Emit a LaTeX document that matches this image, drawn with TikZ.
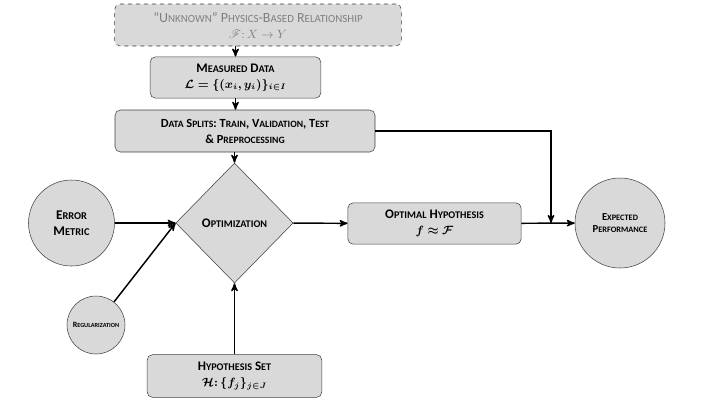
\documentclass[tikz,border=0pt]{standalone}
\usepackage{amsmath,amssymb,bm,mathrsfs}
\usepackage{fontspec}
\setmainfont{Carlito}
\usetikzlibrary{arrows,shapes.geometric}
\makeatletter
% fake small caps: lower part set in capitals at 78 percent
\newcommand\lw[1]{{\fontsize{\strip@pt\dimexpr0.78\dimexpr\f@size pt\relax\relax}{0}\selectfont #1}}
\makeatother
\tikzset{
    %Define standard arrow tip
    >=stealth',
    %Define style for boxes
    box/.style={
           rectangle,
           rounded corners=4pt,
           draw=black!75, thin,
           fill=black!15,
           inner sep=0pt,
           align=center,
           font=\fontsize{9.8}{12}\selectfont\bfseries},
    % Define style for the unknown box
    ghost/.style={
           box,
           dashed,
           font=\fontsize{10.5}{12}\selectfont,
           text=black!50},
    % Define style for round nodes
    disc/.style={
           circle,
           draw=black!75, thin,
           fill=black!15,
           inner sep=0pt,
           align=center,
           font=\footnotesize\bfseries},
    choice/.style={
           diamond,
           draw=black!75, thin,
           fill=black!15,
           inner sep=0pt,
           font=\fontsize{9.8}{12}\selectfont\bfseries},
    % Define arrow style
    imply/.style={
           ->,
           line width=1.1pt}
}

\begin{document}
\begin{tikzpicture}[x=0.75pt, y=-0.75pt]
 \useasboundingbox (0,0) rectangle (720,405);
 %nodes
    \node[ghost, minimum width=215pt, minimum height=31.5pt] (unk) at (258,25)
        {``U\lw{NKNOWN}'' P\lw{HYSICS}-B\lw{ASED} R\lw{ELATIONSHIP}\\ {\small$\mathscr{F}{:}\,X\to Y$}};
    \node[box, minimum width=128pt, minimum height=31pt] (meas) at (235.5,77.5)
        {M\lw{EASURED} D\lw{ATA}\\ {\small$\bm{\mathcal{L}=\{(x_i,y_i)\}_{i\in I}}$}};
    \node[box, minimum width=195pt, minimum height=31.5pt, font=\fontsize{9.3}{12}\selectfont\bfseries] (split) at (245,131)
        {D\lw{ATA} S\lw{PLITS}: T\lw{RAIN}, V\lw{ALIDATION}, T\lw{EST}\\ \& P\lw{REPROCESSING}};
    \node[choice, minimum width=88pt, minimum height=90pt] (optim) at (234.5,223) {O\lw{PTIMIZATION}};
    \node[box, minimum width=130pt, minimum height=31pt] (opt) at (434.5,223.5)
        {O\lw{PTIMAL} H\lw{YPOTHESIS}\\ {\small$\bm{f\approx\mathcal{F}}$}};
    \node[disc, minimum size=67.5pt] (exp) at (620,223)
        {E\lw{XPECTED}\\ P\lw{ERFORMANCE}};
    \node[disc, minimum size=64.5pt, font=\normalsize\bfseries] (err) at (71.5,223) {E\lw{RROR}\\ M\lw{ETRIC}};
    \node[disc, minimum size=43.5pt, font=\fontsize{6}{7}\selectfont\bfseries] (reg) at (96,325) {R\lw{EGULARIZATION}};
    \node[box, minimum width=131pt, minimum height=32pt] (hyp) at (234.5,376)
        {H\lw{YPOTHESIS} S\lw{ET}\\ {\small$\bm{\mathcal{H}{:}\,\{f_j\}_{j\in J}}$}};
    \coordinate (jn) at (551,223);
 %edges
    \draw[imply] (unk.south -| meas.north) -- (meas.north);
    \draw[imply] (meas) -- (split.north -| meas.south);
    \draw[imply] (split.south -| optim.north) -- (optim.north);
    \draw[imply] (split.east) -| (jn);
    \draw[imply] (optim) -- (opt);
    \draw[imply] (opt) -- (exp);
    \draw[imply] (err) -- (optim.west);
    \draw[imply] (reg) -- (optim.west);
    \draw[imply] (hyp) -- (optim.south);
\end{tikzpicture}
\end{document}
